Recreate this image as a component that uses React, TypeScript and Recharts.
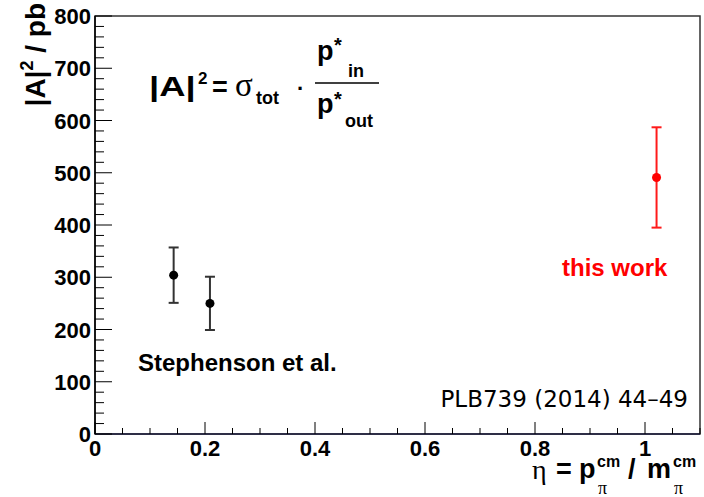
import { ScatterChart, Scatter, XAxis, YAxis, ErrorBar, ReferenceArea } from 'recharts'

const stephensonEta = [0.143, 0.209]
const stephensonA2 = [304, 250]
const stephensonErr = [53, 51]

const thisWorkEta = [1.021]
const thisWorkA2 = [491]
const thisWorkErr = [96]

const xMajorTicks = [0, 0.2, 0.4, 0.6, 0.8, 1]
const yMajorTicks = [0, 100, 200, 300, 400, 500, 600, 700, 800]

const xTicks = xMajorTicks.flatMap((v) => [v, v + 0.05, v + 0.1, v + 0.15]).filter((v) => v <= 1.1)
const yTicks = yMajorTicks.flatMap((v) => [v, v + 20, v + 40, v + 60, v + 80]).filter((v) => v <= 800)

const stephenson = stephensonEta.map((eta, i) => ({ eta, a2: stephensonA2[i], err: stephensonErr[i] }))
const thisWork = thisWorkEta.map((eta, i) => ({ eta, a2: thisWorkA2[i], err: thisWorkErr[i] }))

const BOLD = '"Liberation Sans", Arial, sans-serif'
const SYM = '"Liberation Serif", "DejaVu Serif", serif'

const isMajor = (v: number, step: number) => Math.abs(v / step - Math.round(v / step)) < 1e-6

function XTick(props: any) {
  const { x, y, payload } = props
  const major = isMajor(payload.value, 0.2)
  return (
    <g>
      <line x1={x} x2={x} y1={y} y2={y - (major ? 12 : 6)} stroke="#000" strokeWidth={1} />
      {major && (
        <text x={x} y={y + 22} textAnchor="middle" fontFamily={BOLD} fontWeight="bold" fontSize={22} fill="#000">
          {String(Math.round(payload.value * 10) / 10)}
        </text>
      )}
    </g>
  )
}

function YTick(props: any) {
  const { x, y, payload } = props
  const major = isMajor(payload.value, 100)
  return (
    <g>
      <line x1={x} x2={x + (major ? 17 : 9)} y1={y} y2={y} stroke="#000" strokeWidth={1} />
      {major && (
        <text x={x - 4} y={y + 8} textAnchor="end" fontFamily={BOLD} fontWeight="bold" fontSize={22} fill="#000">
          {payload.value}
        </text>
      )}
    </g>
  )
}

function Annotations() {
  return (
    <svg width={704} height={497} style={{ position: 'absolute', left: 0, top: 0, pointerEvents: 'none' }}>
      {/* y axis title */}
      <text
        transform="translate(45,3) rotate(-90)"
        textAnchor="end"
        fontFamily={BOLD}
        fontWeight="bold"
        fontSize={28}
        fill="#000"
      >
        |A|<tspan fontSize={18} dy={-12}>2</tspan>
        <tspan dy={12}> / pb</tspan>
      </text>

      {/* formula */}
      <g fill="#000" fontFamily={BOLD} fontWeight="bold">
        <text transform="translate(149,96) scale(1.3,1)" fontSize={28}>|A|</text>
        <text x={198} y={84} fontSize={17}>2</text>
        <text x={212} y={96} fontSize={27}>=</text>
        <text x={235} y={96} fontSize={33} fontFamily={SYM} fontWeight="normal">σ</text>
        <text x={256} y={104} fontSize={18}>tot</text>
        <text x={297} y={96} fontSize={22}>·</text>
        <text x={317} y={60} fontSize={27}>p</text>
        <text x={334} y={52} fontSize={20}>*</text>
        <text x={348} y={77} fontSize={18}>in</text>
        <line x1={315} x2={379} y1={83} y2={83} stroke="#000" strokeWidth={1.5} />
        <text x={317} y={113} fontSize={27}>p</text>
        <text x={334} y={106} fontSize={20}>*</text>
        <text x={345} y={127} fontSize={18}>out</text>
      </g>

      {/* x axis title */}
      <g fill="#000" fontFamily={BOLD} fontWeight="bold">
        <text x={532} y={479} fontSize={28} fontFamily={SYM} fontWeight="normal">η</text>
        <text x={556} y={478} fontSize={27}>=</text>
        <text x={579} y={478} fontSize={27}>p</text>
        <text x={597} y={467} fontSize={16}>cm</text>
        <text x={598} y={494} fontSize={18} fontFamily={SYM} fontWeight="normal">π</text>
        <text x={628} y={478} fontSize={27}>/</text>
        <text x={647} y={478} fontSize={27}>m</text>
        <text x={673} y={467} fontSize={16}>cm</text>
        <text x={674} y={494} fontSize={18} fontFamily={SYM} fontWeight="normal">π</text>
      </g>

      <text x={138} y={371} fontFamily={BOLD} fontWeight="bold" fontSize={24} fill="#000">
        Stephenson et al.
      </text>
      <text x={562} y={276} fontFamily={BOLD} fontWeight="bold" fontSize={24} fill="#ff0000">
        this work
      </text>
      <text x={688} y={407} textAnchor="end" fontFamily='"DejaVu Sans", sans-serif' fontSize={23} fill="#000">
        PLB739 (2014) 44–49
      </text>
    </svg>
  )
}

export default function App() {
  return (
    <div style={{ position: 'absolute', left: 0, top: 0, width: 704, height: 497, background: '#fff' }}>
      <ScatterChart width={704} height={497} margin={{ top: 16, right: 4, left: 0, bottom: 0 }}>
        <XAxis
          type="number"
          dataKey="eta"
          domain={[0, 1.1]}
          ticks={xTicks}
          interval={0}
          height={63}
          tickSize={0}
          tickMargin={0}
          tickLine={false}
          axisLine={{ stroke: '#1c1c3c', strokeWidth: 1.5 }}
          tick={<XTick />}
          allowDataOverflow
        />
        <YAxis
          type="number"
          dataKey="a2"
          domain={[0, 800]}
          ticks={yTicks}
          interval={0}
          width={95}
          tickSize={0}
          tickMargin={0}
          tickLine={false}
          axisLine={{ stroke: '#000', strokeWidth: 1.5 }}
          tick={<YTick />}
          allowDataOverflow
        />
        <ReferenceArea x1={0} x2={1.1} y1={0} y2={800} fill="none" stroke="#333" strokeWidth={1.5} />
        <Scatter
          data={stephenson}
          isAnimationActive={false}
          shape={(p: any) => <circle cx={p.cx} cy={p.cy} r={4.5} fill="#000" />}
        >
          <ErrorBar dataKey="err" direction="y" width={5} strokeWidth={2} stroke="#333" isAnimationActive={false} />
        </Scatter>
        <Scatter
          data={thisWork}
          isAnimationActive={false}
          shape={(p: any) => <circle cx={p.cx} cy={p.cy} r={4.5} fill="#ff0000" />}
        >
          <ErrorBar dataKey="err" direction="y" width={5} strokeWidth={2} stroke="#ff1a1a" isAnimationActive={false} />
        </Scatter>
      </ScatterChart>
      <Annotations />
    </div>
  )
}
